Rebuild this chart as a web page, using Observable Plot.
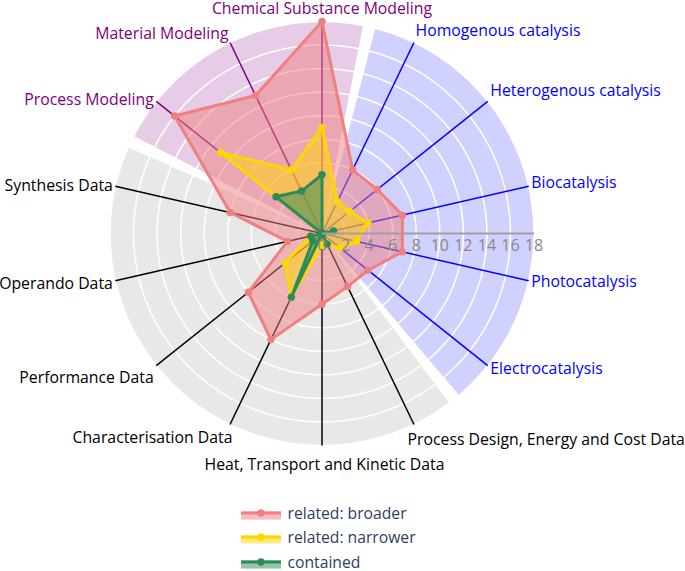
<!DOCTYPE html>
<html>
<head>
<meta charset="utf-8">
<script src="https://cdn.jsdelivr.net/npm/d3@7"></script>
<script src="https://cdn.jsdelivr.net/npm/@observablehq/plot@0.6"></script>
<style>
  body { margin: 0; background: #fff; font-family: "Open Sans", sans-serif; }
  #legend { position: relative; width: 685px; height: 81px; font-family: "Open Sans", sans-serif; font-size: 15.7px; color: #2a3f5f; overflow: hidden; }
  .item { position: absolute; left: 241px; height: 16px; line-height: 16px; display: flex; align-items: center; white-space: nowrap; }
  .item svg { display: block; margin-right: 6.5px; }
</style>
</head>
<body>
<div id="chart"></div>
<div id="legend"></div>
<script>
// ---------------- data ----------------
const categories = [
  "Chemical Substance Modeling",
  "Homogenous catalysis",
  "Heterogenous catalysis",
  "Biocatalysis",
  "Photocatalysis",
  "Electrocatalysis",
  "Process Design, Energy and Cost Data",
  "Heat, Transport and Kinetic Data",
  "Characterisation Data",
  "Performance Data",
  "Operando Data",
  "Synthesis Data",
  "Process Modeling",
  "Material Modeling"
];
const categoryGroup = [
  "Modeling", "Catalysis", "Catalysis", "Catalysis", "Catalysis", "Catalysis",
  "Data", "Data", "Data", "Data", "Data", "Data", "Modeling", "Modeling"
];
const groups = ["Modeling", "Catalysis", "Data"];
const seriesNames = ["related: broader", "related: narrower", "contained"];
const broader   = [18, 6, 6, 7, 7, 5, 5, 6, 10, 8, 3, 8, 16, 13];
const narrower  = [9, 3, 3, 4, 3, 2, 1, 1, 6, 4, 1, 0, 11, 6];
const contained = [5, 0, 0, 1, 0, 0, 1, 0, 6, 1, 1, 0, 5, 4];
const radialTicks = [0, 2, 4, 6, 8, 10, 12, 14, 16, 18];
const radialMax = 18;

// ---------------- styles ----------------
const groupStyle = {
  Modeling:  {text: "#800080", fill: "rgba(128,0,128,0.2)"},
  Catalysis: {text: "#0000ff", fill: "rgba(0,0,255,0.18)"},
  Data:      {text: "#000000", fill: "rgba(0,0,0,0.09)"}
};
const seriesColor = ["#F08080", "#FFD700", "#2E8B57"];
const seriesFill = ["rgba(240,128,128,0.5)", "rgba(255,215,0,0.5)", "rgba(46,139,87,0.5)"];

// ---------------- geometry ----------------
const W = 685, H = 490, CX = 321.5, CY = 233, RPX = 212;
const k = RPX / radialMax;
const n = categories.length, step = 360 / n;
const theta = i => 90 - i * step;
const rad = d => d * Math.PI / 180;
const pol = (r, deg) => [r * Math.cos(rad(deg)), r * Math.sin(rad(deg))];

// background sectors
const gap = 1.7;
const sectorPts = [];
groups.forEach(g => {
  const idx = d3.range(n).filter(i => categoryGroup[i] === g);
  const first = idx.find(i => categoryGroup[(i - 1 + n) % n] !== g);
  const a0 = theta(first) + step / 2 - gap;
  const a1 = theta(first) - (idx.length - 1) * step - step / 2 + gap;
  sectorPts.push({g, x: 0, y: 0});
  for (let a = a0; a > a1; a -= 0.5) { const [x, y] = pol(radialMax, a); sectorPts.push({g, x, y}); }
  const [x, y] = pol(radialMax, a1); sectorPts.push({g, x, y});
});

// grid circles
const gridPts = radialTicks.filter(r => r > 0).flatMap(r =>
  d3.range(0, 360, 1).map(a => { const [x, y] = pol(r, a); return {r, x, y}; }));

// spokes
const spokes = categories.map((c, i) => {
  const [x, y] = pol(radialMax, theta(i));
  return {c, x, y, color: groupStyle[categoryGroup[i]].text};
});

// radar series
const seriesValues = [broader, narrower, contained];
const radar = seriesValues.map((vals, s) => vals.map((v, i) => {
  const [x, y] = pol(v, theta(i));
  return {series: seriesNames[s], cat: categories[i], v, x, y};
}));

// category labels
const labelData = categories.map((c, i) => {
  const a = theta(i), s = Math.sin(rad(a)), co = Math.cos(rad(a));
  const anchor = Math.abs(co) < 0.1 ? "middle" : (co > 0 ? "start" : "end");
  const sg = Math.abs(co) < 0.1 ? 0 : Math.sign(co);
  const as = Math.abs(s);
  let dyPx = s > 0 ? -(9 * as + 5 * as ** 8) : (14 * as + 6 * as ** 8 - 1);
  if (s > 0.95) dyPx += 1;
  dyPx += -sg * (as < 0.4 ? 1.3 : as < 0.8 ? 4.2 : (s > 0 ? 1.65 : -0.95));
  let dxPx = sg * 2.5;
  if (as > 0.8) dxPx = s > 0 ? sg * 1.5 : (sg > 0 ? -6.5 : 2.5);
  const [bx, by] = pol(radialMax, a);
  return {c, anchor, color: groupStyle[categoryGroup[i]].text, x: bx + dxPx / k, y: by - dyPx / k};
});

const font = "'Open Sans', sans-serif";
const marks = [];
groups.forEach(g => marks.push(Plot.line(sectorPts.filter(d => d.g === g),
  {x: "x", y: "y", fill: groupStyle[g].fill, stroke: null, curve: "linear-closed"})));
marks.push(Plot.line(gridPts, {x: "x", y: "y", z: "r", stroke: "white", strokeWidth: 1.5, curve: "linear-closed"}));
marks.push(Plot.link(spokes, {x1: 0, y1: 0, x2: "x", y2: "y", stroke: "color", strokeWidth: 1.5}));
radar.forEach((pts, s) => {
  marks.push(Plot.line(pts, {x: "x", y: "y", fill: seriesFill[s], stroke: null, curve: "linear-closed"}));
  marks.push(Plot.line(pts, {x: "x", y: "y", stroke: seriesColor[s], strokeWidth: 3, curve: "linear-closed"}));
  marks.push(Plot.dot(pts, {x: "x", y: "y", r: 3.7, fill: seriesColor[s], stroke: null}));
});
marks.push(Plot.link([0], {x1: 0, y1: 0, x2: radialMax, y2: 0, stroke: "#a0a0a0", strokeWidth: 2}));
marks.push(Plot.text(radialTicks, {x: d => d, y: 0, dy: 12, text: d => String(d), fill: "#888888", fontSize: 16, fontFamily: font}));
["start", "middle", "end"].forEach(a => marks.push(Plot.text(labelData.filter(d => d.anchor === a),
  {x: "x", y: "y", text: "c", textAnchor: a, fill: "color", fontSize: 15.8, fontFamily: font})));

const chart = Plot.plot({
  width: W, height: H,
  marginTop: 0, marginRight: 0, marginBottom: 0, marginLeft: 0,
  x: {domain: [-CX / k, (W - CX) / k], axis: null},
  y: {domain: [-(H - CY) / k, CY / k], axis: null},
  color: {type: "identity"},
  style: {fontFamily: font, fontSize: "16px", background: "white", overflow: "visible"},
  marks
});
document.getElementById("chart").appendChild(chart);

// ---------------- legend ----------------
const legend = document.getElementById("legend");
seriesNames.forEach((name, s) => {
  const item = document.createElement("div");
  item.className = "item";
  item.style.top = (22.5 + s * 24.6 - 8) + "px";
  item.innerHTML =
    `<svg width="40" height="16"><rect x="0" y="6.3" width="40" height="8.3" fill="${seriesFill[s]}"></rect>` +
    `<line x1="0" x2="40" y1="8" y2="8" stroke="${seriesColor[s]}" stroke-width="3"></line>` +
    `<circle cx="20" cy="8" r="3.7" fill="${seriesColor[s]}"></circle></svg><span>${name}</span>`;
  legend.appendChild(item);
});
</script>
</body>
</html>
